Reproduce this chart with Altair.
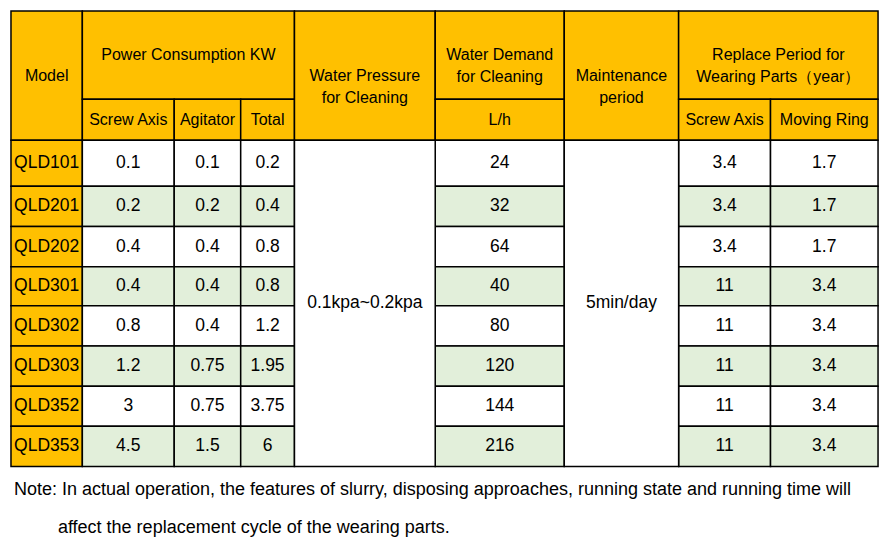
import altair as alt
import pandas as pd

# ---------------- data ----------------
models = ["QLD101", "QLD201", "QLD202", "QLD301", "QLD302", "QLD303", "QLD352", "QLD353"]
power_screw = [0.1, 0.2, 0.4, 0.4, 0.8, 1.2, 3, 4.5]
power_agitator = [0.1, 0.2, 0.4, 0.4, 0.4, 0.75, 0.75, 1.5]
power_total = [0.2, 0.4, 0.8, 0.8, 1.2, 1.95, 3.75, 6]
water_pressure = "0.1kpa~0.2kpa"
water_demand = [24, 32, 64, 40, 80, 120, 144, 216]
maintenance = "5min/day"
replace_screw = [3.4, 3.4, 3.4, 11, 11, 11, 11, 11]
replace_ring = [1.7, 1.7, 1.7, 3.4, 3.4, 3.4, 3.4, 3.4]

header_top = ["Model", "Power Consumption KW", "Water Pressure\nfor Cleaning",
              "Water Demand\nfor Cleaning", "Maintenance\nperiod",
              "Replace Period for\nWearing Parts（year）"]
header_sub = ["Screw Axis", "Agitator", "Total", "L/h", "Screw Axis", "Moving Ring"]
note_lines = [
    "Note: In actual operation, the features of slurry, disposing approaches, running state and running time will",
    "affect the replacement cycle of the wearing parts.",
]

# ---------------- layout (reference pixel units) ----------------
col_edges = [1, 74, 168, 236, 291, 435, 567, 684, 778, 888]
row_edges = [1, 91, 133, 180, 221, 262, 302, 343, 384, 425, 466]
note_pos = [(4, 490), (49, 529)]

ORANGE = "#FFC000"
GREEN = "#E2EFDA"
WHITE = "#FFFFFF"
HEAD_SIZE = 16
BODY_SIZE = 17.5
NOTE_SIZE = 18


def fmt(v):
    if isinstance(v, float) and v.is_integer():
        v = int(v)
    return str(v)


cells = []


def add(c0, c1, r0, r1, text, fill, size):
    x0, x1 = col_edges[c0], col_edges[c1]
    y0, y1 = row_edges[r0], row_edges[r1]
    cells.append(dict(x0=x0, x1=x1, y0=y0, y1=y1, xc=(x0 + x1) / 2,
                      yc=(y0 + y1) / 2, text=text, fill=fill, size=size))


H = HEAD_SIZE
# header
add(0, 1, 0, 2, header_top[0], ORANGE, H)
add(1, 4, 0, 1, header_top[1], ORANGE, H)
add(1, 2, 1, 2, header_sub[0], ORANGE, H)
add(2, 3, 1, 2, header_sub[1], ORANGE, H)
add(3, 4, 1, 2, header_sub[2], ORANGE, H)
add(4, 5, 0, 2, header_top[2], ORANGE, H)
add(5, 6, 0, 1, header_top[3], ORANGE, H)
add(5, 6, 1, 2, header_sub[3], ORANGE, H)
add(6, 7, 0, 2, header_top[4], ORANGE, H)
add(7, 9, 0, 1, header_top[5], ORANGE, H)
add(7, 8, 1, 2, header_sub[4], ORANGE, H)
add(8, 9, 1, 2, header_sub[5], ORANGE, H)

# body
B = BODY_SIZE
for i, m in enumerate(models):
    r = i + 2
    f = GREEN if i % 2 == 1 else WHITE
    add(0, 1, r, r + 1, m, ORANGE, B)
    add(1, 2, r, r + 1, fmt(power_screw[i]), f, B)
    add(2, 3, r, r + 1, fmt(power_agitator[i]), f, B)
    add(3, 4, r, r + 1, fmt(power_total[i]), f, B)
    add(5, 6, r, r + 1, fmt(water_demand[i]), f, B)
    add(7, 8, r, r + 1, fmt(replace_screw[i]), f, B)
    add(8, 9, r, r + 1, fmt(replace_ring[i]), f, B)
add(4, 5, 2, 10, water_pressure, WHITE, B)
add(6, 7, 2, 10, maintenance, WHITE, B)

cells_df = pd.DataFrame(cells)
notes_df = pd.DataFrame([dict(x=p[0], y=p[1], text=t) for p, t in zip(note_pos, note_lines)])

xs = alt.Scale(domain=[0, 890], nice=False, zero=False)
ys = alt.Scale(domain=[0, 540], nice=False, zero=False, reverse=True)

base = alt.Chart(cells_df)

rects = base.mark_rect(stroke="black", strokeWidth=1.5).encode(
    x=alt.X("x0:Q", scale=xs, axis=None),
    x2="x1:Q",
    y=alt.Y("y0:Q", scale=ys, axis=None),
    y2="y1:Q",
    fill=alt.Fill("fill:N", scale=None),
)

texts = base.mark_text(
    font="Liberation Sans", color="#000000", align="center",
    baseline="middle", lineBreak="\n", lineHeight=22,
).encode(
    x=alt.X("xc:Q", scale=xs, axis=None),
    y=alt.Y("yc:Q", scale=ys, axis=None),
    text="text:N",
    size=alt.Size("size:Q", scale=None),
)

notes = alt.Chart(notes_df).mark_text(
    font="Liberation Sans", fontSize=NOTE_SIZE, color="#000000", align="left",
    baseline="middle",
).encode(
    x=alt.X("x:Q", scale=xs, axis=None),
    y=alt.Y("y:Q", scale=ys, axis=None),
    text="text:N",
)

chart = alt.layer(rects, texts, notes).properties(
    width=870, height=529,
    autosize=alt.AutoSizeParams(type="none"),
    padding={"left": 2, "top": 2, "right": 2, "bottom": 2},
).configure_view(stroke=None)

chart.save("out.html", embed_options={"renderer": "svg", "actions": False})
